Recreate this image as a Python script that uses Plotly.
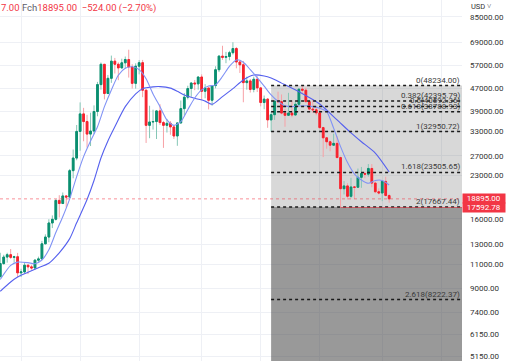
import numpy as np
import pandas as pd
import plotly.graph_objects as go

# ---------------- data (weekly BTC/USD candles) ----------------
first_week = "2020-07-27"
opens = [9930, 11070, 11680, 11910, 11650, 11710, 10250, 10330, 10920, 10770,
         10670, 11380, 11500, 13030, 13780, 15480, 15960, 18660, 18180, 19360,
         19170, 23860, 26480, 33000, 38150, 35800, 32280, 33100, 38900, 48600,
         57480, 45140, 51200, 59000, 57500, 55800, 58200, 59800, 56250, 49100,
         56600, 58240, 46400, 34700, 35680, 35800, 39100, 35500, 34700, 35290,
         34250, 31780, 35400, 39850, 43800, 47050, 49250, 48900, 51750, 46000,
         47250, 42700, 48200, 54960, 61500, 60900, 61300, 63270, 65470, 58600,
         57250, 49400, 50100, 46700, 50800, 47300, 41900, 43100, 36300, 37900,
         42400, 42200, 38400, 37700, 38400, 37800, 41300, 46800, 46400, 42200,
         39700, 39450, 38470, 34060, 31300, 30300, 29450, 29900, 26580, 20550,
         21030, 19300, 20850, 20800, 22580, 23300, 23180, 24300, 21530, 20040,
         19830, 21830, 19419]
highs = [12100, 11900, 12100, 12480, 11800, 12090, 10600, 11180, 10990, 10950,
         11490, 11720, 13350, 14090, 15970, 16480, 18800, 19480, 19920, 19420,
         24200, 28420, 34800, 41950, 40100, 37850, 38530, 40930, 49700, 58350,
         57500, 52640, 61780, 60600, 58400, 60200, 61300, 64850, 57500, 57950,
         59500, 59600, 46600, 40800, 39500, 39400, 41300, 36000, 36600, 35950,
         34600, 35400, 42600, 45300, 48150, 49400, 50500, 51900, 52900, 48800,
         47350, 48450, 56550, 62000, 67000, 63700, 64250, 69000, 66300, 59300,
         59100, 51900, 50900, 51900, 52100, 47550, 44400, 43500, 38900, 42600,
         45850, 44800, 39800, 45400, 42500, 42300, 46900, 48234, 47400, 42400,
         42900, 40800, 40000, 34300, 31400, 30600, 32400, 31700, 26800, 21900,
         21500, 22500, 21000, 24280, 24600, 23650, 25200, 25200, 21800, 20600,
         21860, 22700, 19700]
lows = [9880, 10950, 11150, 11500, 11150, 9880, 9900, 10200, 10140, 10520,
        10530, 11200, 11420, 12980, 13200, 14840, 15800, 16200, 18100, 17600,
        19000, 22400, 26000, 28130, 30420, 28850, 29240, 32300, 37400, 46600,
        43000, 44950, 49300, 53270, 50400, 55500, 55500, 51500, 47050, 47000,
        52900, 43800, 30000, 31200, 33500, 31000, 34800, 28800, 32700, 32100,
        31000, 29300, 35200, 37600, 43000, 43950, 46400, 46600, 42800, 43400,
        39600, 40800, 47100, 53900, 59600, 58000, 59400, 62300, 55600, 53500,
        42000, 46600, 45500, 45600, 45700, 40600, 39650, 34000, 32950, 36300,
        41700, 38000, 34300, 37600, 37100, 37600, 40500, 45200, 42100, 39200,
        38500, 37700, 33700, 26700, 28600, 28000, 29300, 26550, 17592.78, 19600,
        18800, 19000, 18900, 20700, 20700, 22400, 22700, 20800, 19800, 19600,
        18550, 19300, 18300]
closes = [11070, 11680, 11910, 11650, 11710, 10250, 10330, 10920, 10770, 10670,
          11380, 11500, 13030, 13780, 15480, 15960, 18660, 18180, 19360, 19170,
          23860, 26480, 33000, 38150, 35800, 32280, 33100, 38900, 48600, 57480,
          45140, 51200, 59000, 57500, 55800, 58200, 59800, 56250, 49100, 56600,
          58240, 46400, 34700, 35680, 35800, 39100, 35500, 34700, 35290, 34250,
          31780, 35400, 39850, 43800, 47050, 49250, 48900, 51750, 46000, 47250,
          42700, 48200, 54960, 61500, 60900, 61300, 63270, 65470, 58600, 57250,
          49400, 50100, 46700, 50800, 47300, 41900, 43100, 36300, 37900, 42400,
          42200, 38400, 37700, 38400, 37800, 41300, 46800, 46400, 42200, 39700,
          39450, 38470, 34060, 31300, 30300, 29450, 29900, 26580, 20550, 21030,
          19300, 20850, 20800, 22580, 23300, 23180, 24300, 21530, 20040, 19830,
          21830, 19419, 18895]

# fast moving average
fast_ma_dates = ["2020-07-27", "2020-08-17", "2020-08-31", "2020-09-21", "2020-10-05",
                 "2020-10-19", "2020-11-02", "2020-11-16", "2020-11-30", "2020-12-14",
                 "2020-12-28", "2021-01-11", "2021-01-25", "2021-02-08", "2021-02-22",
                 "2021-03-08", "2021-03-22", "2021-04-05", "2021-04-19", "2021-05-03",
                 "2021-05-17", "2021-05-31", "2021-06-14", "2021-06-28", "2021-07-12",
                 "2021-07-26", "2021-08-09", "2021-08-23", "2021-09-06", "2021-09-20",
                 "2021-10-04", "2021-10-18", "2021-11-01", "2021-11-15", "2021-11-29",
                 "2021-12-13", "2021-12-27", "2022-01-10", "2022-01-24", "2022-02-07",
                 "2022-02-21", "2022-03-07", "2022-03-21", "2022-04-04", "2022-04-18",
                 "2022-05-02", "2022-05-16", "2022-05-30", "2022-06-13", "2022-06-27",
                 "2022-07-11", "2022-07-25", "2022-08-08", "2022-08-22", "2022-09-05",
                 "2022-09-19"]
fast_ma = [9700, 10900, 11200, 11150, 11050, 11400, 12400, 14300, 16300, 18900,
           22700, 26800, 30500, 34300, 40500, 46500, 52500, 55600, 56300, 55000,
           51000, 45000, 40500, 36300, 34700, 35800, 39500, 43500, 46500, 48000,
           48500, 52000, 56500, 59600, 58500, 55000, 51500, 48000, 44600, 42300,
           40800, 40500, 40700, 40800, 40500, 40000, 38900, 33900, 29100, 25500,
           23200, 22100, 21500, 22000, 22000, 21200]

# slow moving average
slow_ma_dates = ["2020-07-27", "2020-08-17", "2020-08-31", "2020-09-21", "2020-10-12",
                 "2020-11-02", "2020-11-23", "2020-12-14", "2020-12-28", "2021-01-18",
                 "2021-02-01", "2021-02-15", "2021-03-01", "2021-03-15", "2021-04-05",
                 "2021-04-26", "2021-05-10", "2021-05-31", "2021-06-14", "2021-07-05",
                 "2021-07-19", "2021-08-02", "2021-08-23", "2021-09-13", "2021-09-27",
                 "2021-10-18", "2021-11-08", "2021-11-29", "2021-12-20", "2022-01-10",
                 "2022-01-24", "2022-02-14", "2022-03-21", "2022-05-02", "2022-06-06",
                 "2022-07-04", "2022-07-25", "2022-08-22", "2022-09-19"]
slow_ma = [8800, 9500, 9900, 10300, 10700, 11100, 12100, 13600, 15500, 18800,
           22000, 26500, 30500, 34300, 40500, 45000, 47000, 47700, 47800, 47200,
           46000, 44600, 43400, 42400, 41300, 44000, 47000, 50500, 52600, 52200,
           51300, 49200, 45800, 41400, 36300, 32600, 30300, 27600, 23600]

# Fibonacci extension
fib_start = "2022-01-24"
fib_ratios = ["0", "0.382", "0.5", "0.618", "1", "1.618", "2", "2.618"]
fib_prices = [48234.00, 42395.79, 40592.36, 38788.93, 32950.72, 23505.65, 17667.44, 8222.37]

last_price = 18895.00
low_price = 17592.78
low_date = "2022-06-13"
header_parts = ["7.00 ", "Fch", "18895.00", "  \u2212524.00 (\u22122.70%)"]

y_ticks = [85000, 69000, 57000, 47000, 39000, 33000, 27000, 23000, 16000,
           13000, 11000, 9000, 7400, 6150, 5150]
grid_dates = ["2020-09-07", "2021-01-04", "2021-05-03", "2021-09-06",
              "2022-01-03", "2022-05-02", "2022-09-05", "2023-01-02"]

x_range = ["2020-07-26 12:00", "2023-02-12 19:00"]
y_range_log = [3.6942, 4.9904]

# ---------------- figure ----------------
dates = pd.date_range(first_week, periods=len(opens), freq="7D")
body_hi = [max(o, c) for o, c in zip(opens, closes)]
body_lo = [min(o, c) for o, c in zip(opens, closes)]

UP = "#0a8f70"
DOWN = "#f5222d"
UP_W = "#86c7b6"
DOWN_W = "#f7a1a6"
FONT = "Roboto"

fig = go.Figure()

# wicks (pale)
fig.add_trace(go.Candlestick(
    x=dates, open=opens, high=highs, low=lows, close=closes,
    increasing=dict(line=dict(color=UP_W, width=1), fillcolor=UP_W),
    decreasing=dict(line=dict(color=DOWN_W, width=1), fillcolor=DOWN_W),
    showlegend=False, hoverinfo="skip"))
# bodies
fig.add_trace(go.Candlestick(
    x=dates, open=opens, high=body_hi, low=body_lo, close=closes,
    increasing=dict(line=dict(color=UP, width=1), fillcolor=UP),
    decreasing=dict(line=dict(color=DOWN, width=1), fillcolor=DOWN),
    showlegend=False))

fig.add_trace(go.Scatter(x=slow_ma_dates, y=slow_ma, mode="lines",
                         line=dict(color="#5560ee", width=1.1, shape="spline", smoothing=0.7),
                         showlegend=False))
fig.add_trace(go.Scatter(x=fast_ma_dates, y=fast_ma, mode="lines",
                         line=dict(color="#8193f5", width=1.1, shape="spline", smoothing=0.7),
                         showlegend=False))

shapes = []
# fib fills
shapes.append(dict(type="rect", xref="x", yref="y", x0=fib_start, x1=x_range[1],
                   y0=fib_prices[6], y1=fib_prices[0],
                   fillcolor="rgba(110,110,110,0.27)", line=dict(width=0), layer="between"))
shapes.append(dict(type="rect", xref="x", yref="y", x0=fib_start, x1=x_range[1],
                   y0=1000, y1=fib_prices[6],
                   fillcolor="rgba(70,70,70,0.55)", line=dict(width=0), layer="between"))
# fib lines
for p in fib_prices:
    shapes.append(dict(type="line", xref="x", yref="y", x0=fib_start, x1=x_range[1],
                       y0=p, y1=p, line=dict(color="#1a1a1a", width=1.5, dash="dot"),
                       layer="above"))
# current price line
shapes.append(dict(type="line", xref="paper", yref="y", x0=0, x1=1,
                   y0=last_price, y1=last_price,
                   line=dict(color="rgba(242,54,69,0.55)", width=1, dash="dot")))
# low ray
shapes.append(dict(type="line", xref="x", yref="y", x0=low_date, x1=x_range[1],
                   y0=low_price, y1=low_price,
                   line=dict(color="rgba(242,54,69,0.55)", width=1)))

annotations = []
for r, p in zip(fib_ratios, fib_prices):
    annotations.append(dict(xref="paper", yref="y", x=0.999, y=np.log10(p),
                            xanchor="right", yanchor="bottom", yshift=-1,
                            text=f"{r}({p:.2f})", showarrow=False,
                            font=dict(family=FONT, size=8, color="#3a3a3a")))

for val in [last_price, low_price]:
    annotations.append(dict(xref="paper", yref="y", x=1, y=np.log10(val),
                            xanchor="left", yanchor="middle",
                            text=f"{val:.2f}", showarrow=False, width=41, height=8,
                            align="center", borderpad=0.3, bgcolor="#f23645",
                            font=dict(family=FONT, size=8, color="white")))

hdr = (f'<span style="color:#f23645">{header_parts[0]}</span>'
       f'<span style="color:#5d606b">{header_parts[1]}</span>'
       f'<span style="color:#f23645">{header_parts[2]}{header_parts[3]}</span>')
annotations.append(dict(xref="paper", yref="paper", x=0, y=1, xanchor="left",
                        yanchor="middle", xshift=-1, yshift=-8, text=hdr, showarrow=False,
                        font=dict(family=FONT, size=9.5)))
annotations.append(dict(xref="paper", yref="paper", x=1, y=1, xanchor="left",
                        yanchor="middle", xshift=7, yshift=-6, text="USD \u02c5",
                        showarrow=False, font=dict(family=FONT, size=7.5, color="#333")))

fig.update_layout(
    width=512, height=361,
    margin=dict(l=0, r=50, t=0, b=0),
    paper_bgcolor="white", plot_bgcolor="white",
    shapes=shapes, annotations=annotations,
    showlegend=False,
    font=dict(family=FONT),
    xaxis=dict(type="date", range=x_range, rangeslider=dict(visible=False),
               tickvals=grid_dates, showticklabels=False, showgrid=True,
               gridcolor="#eef0f5", gridwidth=1, zeroline=False, showline=False),
    yaxis=dict(type="log", side="right", range=y_range_log,
               tickvals=y_ticks, ticktext=[f"{v:.2f}" for v in y_ticks],
               tickfont=dict(family=FONT, size=8, color="#333"),
               ticks="", ticklabelstandoff=7,
               showgrid=True, gridcolor="#eef0f5", gridwidth=1,
               zeroline=False, showline=False),
)

fig.write_html("out.html", config={"displayModeBar": False},
               post_script="document.body.style.margin='0';document.body.style.overflow='hidden';")
